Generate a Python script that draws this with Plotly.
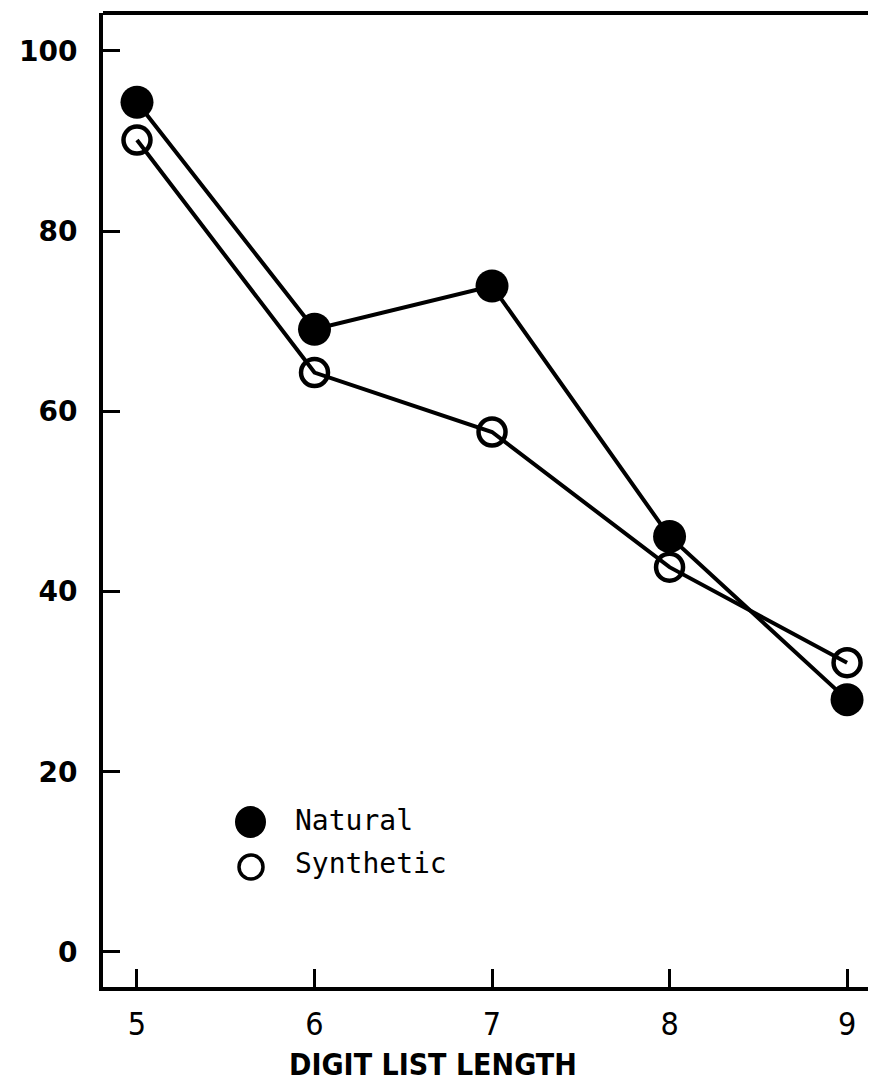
import plotly.graph_objects as go

lengths = [5, 6, 7, 8, 9]
natural = [94.3, 69.1, 73.9, 46.1, 28.0]
synthetic = [90.1, 64.3, 57.7, 42.7, 32.1]
y_ticks = [0, 20, 40, 60, 80, 100]
x_title = "DIGIT LIST LENGTH"

# page offset of the figure (body margin)
OX, OY = 8, 8
W, H = 876 - OX, 1081 - OY
L, T, B = 103 - OX, 13 - OY, 1081 - 987
PW, PH = W - L, H - T - B


def px(xp):
    return (xp - 103) / PW


def py(yp):
    return (987 - yp) / PH


fig = go.Figure()
fig.add_trace(go.Scatter(
    x=lengths, y=synthetic, mode="lines+markers", name="Synthetic",
    line=dict(color="black", width=4),
    marker=dict(symbol="circle-open", size=27, color="black", line=dict(width=4.5)),
))
fig.add_trace(go.Scatter(
    x=lengths, y=natural, mode="lines+markers", name="Natural",
    line=dict(color="black", width=4),
    marker=dict(symbol="circle", size=33, color="black"),
))

fig.update_layout(
    width=W, height=H,
    margin=dict(l=L, r=0, t=T, b=B),
    paper_bgcolor="white", plot_bgcolor="white",
    showlegend=False,
    font=dict(family="DejaVu Sans Mono", color="black"),
)
fig.update_xaxes(
    range=[4.8085, 9.163], tickvals=lengths, ticktext=[str(v) for v in lengths],
    ticks="inside", ticklen=18, tickwidth=3, tickcolor="black",
    showline=True, linewidth=4, linecolor="black", showgrid=False, zeroline=False,
    tickfont=dict(size=32, family="DejaVu Sans Condensed"), ticklabelstandoff=6,
)
fig.update_yaxes(
    range=[-3.89, 104.2], tickvals=y_ticks, ticktext=[str(v) for v in y_ticks],
    ticks="inside", ticklen=17, tickwidth=3, tickcolor="black",
    showline=True, linewidth=4, linecolor="black", showgrid=False, zeroline=False,
    tickfont=dict(size=28, family="DejaVu Sans", weight="bold"), ticklabelstandoff=16,
)
# top frame line
fig.add_shape(type="line", xref="paper", yref="paper", x0=0, x1=1, y0=1, y1=1,
              line=dict(color="black", width=4))
# x-axis title (offset to the left like the original)
fig.add_annotation(text=x_title, xref="paper", yref="paper",
                   x=px(433), y=py(1064), xanchor="center", yanchor="middle",
                   showarrow=False,
                   font=dict(size=30, family="DejaVu Sans Condensed", weight="bold"))
# legend keys
fig.add_shape(type="circle", xref="paper", yref="paper",
              x0=px(236), x1=px(265), y0=py(837), y1=py(807),
              fillcolor="black", line=dict(color="black", width=2))
fig.add_shape(type="circle", xref="paper", yref="paper",
              x0=px(239), x1=px(263), y0=py(879), y1=py(855),
              line=dict(color="black", width=3.5))
fig.add_annotation(text="Natural", xref="paper", yref="paper",
                   x=px(293), y=py(820), xanchor="left", yanchor="middle",
                   showarrow=False, font=dict(size=28, family="DejaVu Sans Mono"))
fig.add_annotation(text="Synthetic", xref="paper", yref="paper",
                   x=px(293), y=py(863), xanchor="left", yanchor="middle",
                   showarrow=False, font=dict(size=28, family="DejaVu Sans Mono"))

fig.write_html("out.html")
